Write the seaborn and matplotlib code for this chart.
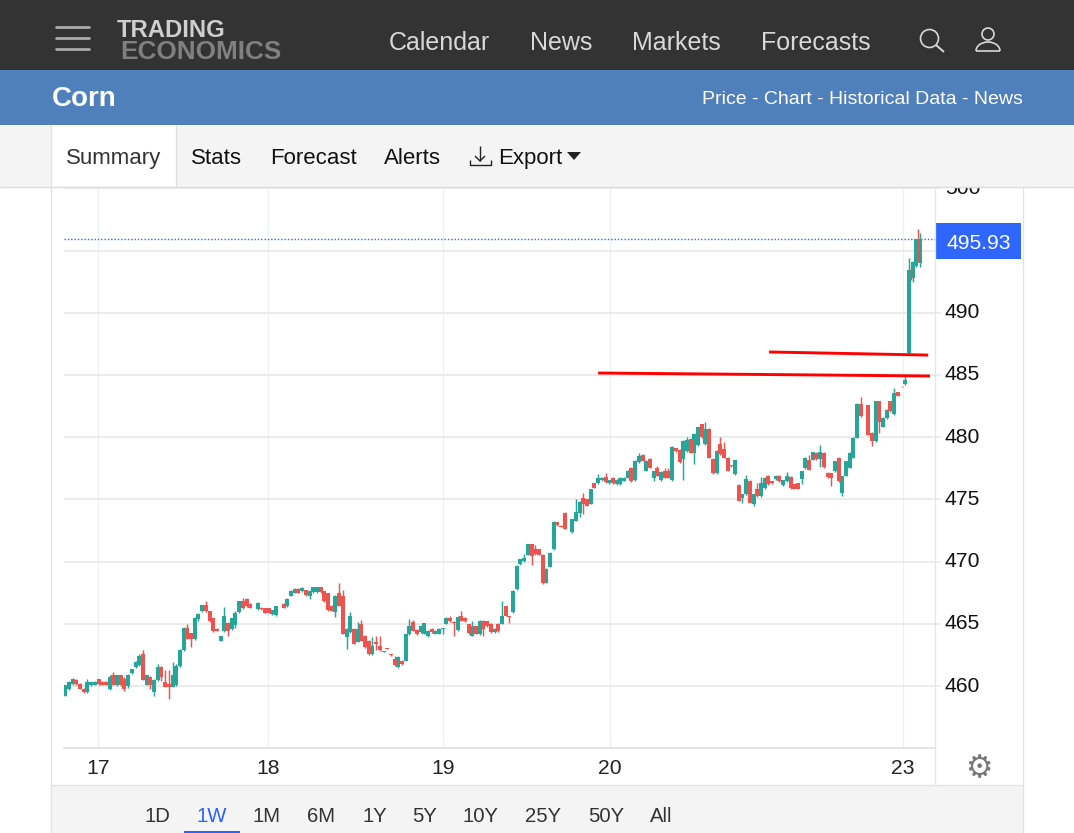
import matplotlib
matplotlib.use("Agg")
import matplotlib.pyplot as plt
from matplotlib.patches import Rectangle, Circle, Arc, Polygon
from matplotlib.transforms import ScaledTranslation
import numpy as np
import pandas as pd
import seaborn as sns

N = None
open_a = [459.2,459.8,460.2,460.5,460.2,459.8,459.5,460.05,460.1,460.55,460.35,460.35,459.8,460.85,460.05,460.85,
          460.6,460,461.05,461.5,461.7,462.6,460.1,460.7,459.5,460.5,461.5,460.35,460.2,459.95,460.1,461.6,
          462.9,464.7,464.25,463.75,465.35,466,466.5,466,465.45,464.6,463.65,464.4,465.1,464.6,464.9,465.95,
          466.8,467,466.6,N,466.2,466.3,466.25,466.25,465.8,465.7,N,466.6,466.4,467.25,467.5,467.8]
close_a = [460.1,460.3,460.6,460.15,459.8,459.5,460.3,460.3,460.35,460.15,460.1,460.1,460.7,460.1,460.85,460.1,
           459.8,460.85,461.35,461.95,462.45,460.5,460.85,460.05,460.5,461.5,460.7,459.95,459.95,460.85,461.65,462.9,
           464.7,463.8,463.75,465.5,465.8,466.5,466,465.2,464.4,464.45,464,465.6,464.4,465.45,465.85,466.8,
           466.3,466.4,466.3,N,466.7,466.2,465.9,465.9,466.1,466.4,N,466.3,467,467.65,467.8,467.5]
high_a = [460.1,460.4,460.65,460.55,460.25,459.85,460.6,460.35,460.4,460.6,460.4,460.4,460.85,461.15,460.9,460.9,
          460.7,461,461.4,462,462.6,462.9,460.9,460.8,460.6,461.8,461.6,461.3,461.3,461.95,461.8,463,
          464.75,464.95,464.3,465.55,465.85,466.55,466.85,466.05,465.5,464.65,464.05,466.35,465.15,465.5,466,466.85,
          467.05,467.05,466.65,N,466.75,466.35,466.3,466.3,466.15,466.45,N,466.65,467.05,467.7,467.85,467.85]
low_a = [459.2,459.7,460.1,460.1,459.75,459.45,459.45,460,460.05,460.1,460.05,460.05,459.7,460.05,460,460,
         459.6,459.85,461,461.45,461.6,460.45,460.05,459.8,459.2,460.4,460.4,459.9,458.95,459.9,460,461.55,
         462.8,463.75,463.1,463.7,465.2,465.95,465.95,465.15,464.35,464.4,463.6,464.35,464,464.5,464.7,465.9,
         466.2,466.35,466.25,N,466.15,466.15,465.85,465.85,465.75,465.65,N,466.25,466.35,467.2,467.45,467.45]

open_b = [467.6,467.7,467.25,467.55,467.55,467.95,467.6,467.45,466.45,465.95,467.45,467.25,463.95,464.35,464.6,463.55,
          464.95,464.05,463.65,462.55,463.5,463.25,462.75,463.02,462.55,462.2,461.55,462.05,462.05,464.15,465.15,464.5,
          464.35,464.2,464,464.6,464.2,464.2,464.6,465,465.5,465.15,464.5,465.65,465.5,464.95,464.05,464.8,
          464.15,465.25,465.2,465,464.35,465,465,466.4,465.6,465.95,467.8]
close_b = [467.9,467.3,467.65,467.95,467.95,467.55,466.8,466.1,466.05,467.25,466.45,464.2,464.6,465.6,463.4,464.6,
           463.65,463.1,462.55,463.25,463.4,462.9,462.8,462.98,462.5,461.7,462.35,461.75,464.15,464.8,464.45,464.15,
           464.8,465.05,464.45,464.35,464.45,464.6,464.65,465.5,465.2,465.05,465.55,465.25,465.2,464.25,464.85,464.2,
           465.25,464.6,464.8,464.35,464.6,464.4,465.65,465.65,465.55,467.65,469.65]
high_b = [467.95,467.75,467.7,468,468,468,467.65,467.5,466.5,467.3,468.25,467.7,464.65,465.95,464.65,465.15,
          465.3,464.1,463.7,463.95,464,464.05,462.85,463.05,462.6,462.45,462.4,462.1,464.2,465.4,465.3,464.55,
          464.85,465.1,464.5,464.65,464.5,464.65,464.7,465.55,465.6,465.2,465.6,466.05,465.55,465,465.25,464.85,
          465.3,465.3,465.25,465.05,464.65,465.05,466.8,466.45,465.65,467.7,469.7]
low_b = [467.55,467.25,467,467.5,467.5,467.5,466.75,466.05,466,465.55,466.4,464.15,463,464.3,463.35,463.5,
         463.6,463.05,462.5,462.5,462.9,462.85,462.7,462.95,462.45,461.65,461.45,461.7,462,464.1,464.4,464.1,
         464.3,464.15,463.95,464.3,464.15,464.15,464.2,464.95,465.15,464,464.45,465.2,465.15,464.2,464,464.15,
         464.1,464.05,464.75,464.3,464.3,464.35,464.95,465.6,465.05,465.9,467.75]

open_c = [469.8,470.05,470.55,471.4,471,471,470.55,468.3,469.6,471,473.15,472.9,473.9,N,472.35,473.3,
          473.9,475.1,475,474.65,476.3,476.3,476.55,476.8,476.3,476.75,476.2,476.2,476.5,476.75,477.55,476.55,
          478,478.6,477.3,478.25,476.75,477.55,476.55,477.3,477.3,476.55,479.1,479,478.25,478.9,479.85,478.75,
          479.35,481.05,479.45,480.65,478.25,477.1,479.45,479.05,478.35,477.75,477.05,476.15,475.15,475.4,476.5]
close_c = [470.2,470.3,471.4,470.45,470.6,470.55,468.25,469.4,470.7,473.2,472.95,472.8,472.65,N,473.4,474,
           474.8,474.6,474.5,475.8,475.95,476.7,476.75,476.4,476.55,476.3,476.6,476.75,476.75,477.3,476.5,478.1,
           478.5,478.1,478.1,477.55,477.25,476.9,477.2,476.75,476.75,479.25,478.9,478,479.7,479.8,478.75,480.25,
           480.8,480,480.65,478.35,477.1,478.9,478.65,478.35,477.3,477.65,478.15,474.9,475.4,476.65,474.75]
high_c = [470.25,470.65,471.45,471.45,471.3,471.05,470.6,469.45,470.75,473.25,473.2,472.95,473.95,N,473.45,475,
          474.85,475.55,475.05,475.85,476.35,477.05,476.8,477.15,476.6,476.8,476.65,476.8,476.8,477.35,477.6,478.15,
          478.7,478.65,478.15,478.35,477.3,477.7,477.25,477.5,477.5,479.3,479.15,479.05,479.75,480,479.9,480.3,
          480.85,481.1,481.2,480.7,478.3,479,480,479.6,478.4,477.8,478.2,476.2,475.45,477,476.55]
low_c = [469.75,470,470.5,469.7,470.55,470.5,468.2,468.25,469.55,470.95,472.9,472.75,472.6,N,472.3,473.25,
         473.6,473.8,474.45,474.6,475.9,476.25,476.5,476.35,476.25,476.25,476.15,476.15,476.45,476.7,476.4,476.5,
         477.95,478.05,477.25,477.5,476.5,476.85,476.5,476.7,476.7,476.5,478.85,477.95,476.6,478.85,478.7,477.85,
         479.3,479.95,479.4,478.3,477.05,477.05,478.6,478.3,477.25,477.6,477,474.85,474.75,475.35,474.7]

open_d = [474.6,475.8,475.25,475.9,476.9,476.45,476.65,476.9,476.15,476.45,476.8,476.2,476.3,476.65,477.5,478.15,
          478.2,478.75,478.25,478.75,477.15,477.1,477.25,478.35,475.5,476.9,477.55,478.35,479.95,482.65,N,482.55,
          480.35,479.7,482.9,480.85,481.55,482.9,481.85,483.6,484.07,484.25,486.74,492.8,493.76,493.97]
close_d = [475.4,475.25,476.3,476.75,476.2,476.3,476.9,476.45,476.55,476.9,475.9,475.85,475.85,477.25,478.35,477.4,
           478.8,478.25,478.8,477.6,476.8,476.75,478.05,476.45,476.85,478.05,478.75,479.95,482.7,481.7,N,480.2,
           479.7,482.9,481.2,481.55,482.2,482.1,483.55,483.35,484.03,484.6,493.44,494.1,495.9,495.93]
high_d = [475.45,476.3,476.8,476.8,476.95,476.5,476.95,476.95,476.6,477.2,476.85,476.25,476.35,477.3,478.4,478.6,
          478.85,478.8,479.35,478.8,477.2,477.15,478.1,478.4,476.9,478.1,478.8,480,482.75,483.25,N,482.6,
          480.4,482.95,482.95,481.6,482.25,482.95,483.95,483.65,484.1,484.95,494.4,494.15,495.95,496.45]
low_d = [474.45,475.2,475.2,475.85,476.15,476.25,476.6,476.4,476.1,476.4,475.85,475.8,475.8,476.2,477.45,477.35,
         478.15,478.2,477.6,477.55,476.75,476.1,477.2,476.4,475.25,476.85,477.5,478.3,479.9,481.65,N,480.15,
         479.3,479.65,480.35,480.8,481.5,482.05,481.8,483.3,484,484.2,486.7,492.5,493.7,493.7]

opens = open_a + open_b + open_c + open_d
closes = close_a + close_b + close_c + close_d
highs = high_a + high_b + high_c + high_d
lows = low_a + low_b + low_c + low_d

extra_slot = [228.5, 230.5]
extra_high = [493.7, 496.7]
extra_low = [492.6, 494.1]

last_price = 495.93
trend_slots = [[190.2, 233.2], [144.0, 233.7]]
trend_prices = [[486.85, 486.6], [485.16, 484.92]]

day_slots = [8.84, 54.8, 102.1, 147.2, 226.4]
day_labels = ["17", "18", "19", "20", "23"]
price_ticks = [460, 465, 470, 475, 480, 485, 490, 495, 500]
price_labels = ["460", "465", "470", "475", "480", "485", "490", "", "500"]
nav_items = ["Calendar", "News", "Markets", "Forecasts"]
tab_items = ["Summary", "Stats", "Forecast", "Alerts", "Export"]
range_items = ["1D", "1W", "1M", "6M", "1Y", "5Y", "10Y", "25Y", "50Y", "All"]

UP = "#26a69a"
DOWN = "#ef5350"

sns.set_theme(style="white")
plt.rcParams["font.family"] = ["Liberation Sans", "DejaVu Sans"]

df = pd.DataFrame({"open": opens, "close": closes, "high": highs, "low": lows})
df["slot"] = np.arange(len(df))
df = df.dropna()
df["dir"] = np.where(df["close"] >= df["open"], "up", "down")
body = df.melt(id_vars=["slot", "dir"], value_vars=["open", "close"], value_name="price")
wick = df.melt(id_vars=["slot", "dir"], value_vars=["high", "low"], value_name="price")

fig = plt.figure(figsize=(10.74, 8.33), dpi=100, facecolor="white")
ax = fig.add_axes([64 / 1074, (833 - 748) / 833, 871 / 1074, 560 / 833], facecolor="none", zorder=1)

palette = {"up": UP, "down": DOWN}
sns.lineplot(data=wick, x="slot", y="price", units="slot", estimator=None, hue="dir", palette=palette,
             linewidth=1.05, legend=False, sort=False, solid_capstyle="butt", ax=ax, zorder=3)
sns.lineplot(data=body, x="slot", y="price", units="slot", estimator=None, hue="dir", palette=palette,
             linewidth=2.9, legend=False, sort=False, solid_capstyle="butt", ax=ax, zorder=4)
extra = pd.DataFrame({"slot": extra_slot * 2, "price": extra_high + extra_low})
sns.lineplot(data=extra, x="slot", y="price", units="slot", estimator=None, color=DOWN,
             linewidth=1.05, legend=False, sort=False, solid_capstyle="butt", ax=ax, zorder=5)

for xs, ys in zip(trend_slots, trend_prices):
    sns.lineplot(x=xs, y=ys, color="#ff0000", linewidth=2.1, sort=False, legend=False,
                 solid_capstyle="butt", ax=ax, zorder=6)
ax.axhline(last_price, color="#2f66ff", linewidth=1.0, linestyle=(0, (1, 1.4)), zorder=2)

ax.set_xlim(-0.35, 235.05)
ax.set_ylim(455.02, 500.03)
ax.set_xticks(day_slots)
ax.set_xticklabels(day_labels)
ax.set_yticks(price_ticks)
ax.set_yticklabels(price_labels)
ax.yaxis.tick_right()
ax.set_xlabel("")
ax.set_ylabel("")
ax.grid(True, axis="y", color="#e8e8e8", linewidth=1.2)
ax.grid(True, axis="x", color="#e9f0f6", linewidth=0.9)
ax.set_axisbelow(True)
ax.tick_params(axis="y", length=4.5, width=1.1, color="#e8e8e8", labelsize=15.2, labelcolor="#111111", pad=2.6, right=True)
ax.tick_params(axis="x", length=0, labelsize=15.2, labelcolor="#222222", pad=8)
lift = ScaledTranslation(0, 2 / 100, fig.dpi_scale_trans)
for label in ax.get_yticklabels():
    label.set_transform(label.get_transform() + lift)
for side in ("top", "left", "right"):
    ax.spines[side].set_visible(False)
ax.spines["bottom"].set_color("#e4e4e4")
ax.spines["bottom"].set_linewidth(1.4)

# page furniture, in pixel coordinates, drawn over the chart
pg = fig.add_axes([0, 0, 1, 1], facecolor="none", zorder=2)
pg.set_xlim(0, 1074)
pg.set_ylim(833, 0)
pg.axis("off")


def rect(x0, y0, x1, y1, color, z=1):
    pg.add_patch(Rectangle((x0, y0), x1 - x0, y1 - y0, facecolor=color, edgecolor="none", zorder=z))


def seg(xs, ys, color, lw=1.0, z=3, cap="butt"):
    pg.plot(xs, ys, color=color, linewidth=lw, solid_capstyle=cap, zorder=z)


rect(0, 0, 1074, 70, "#333333")
rect(0, 70, 1074, 125, "#4f80bc")
rect(0, 125, 1074, 187, "#f4f4f4")
rect(52, 125, 176, 187, "#ffffff", 2)
rect(936, 223, 1021, 259, "#2f66ff", 2)
rect(52, 785, 1023, 833, "#f4f4f4")
rect(184, 831, 240, 833, "#2962ff", 2)

seg([0, 1074], [187, 187], "#dcdcdc", 1.0)
seg([51, 51], [125, 833], "#e2e2e2", 0.9)
seg([1022.5, 1022.5], [187, 833], "#e2e2e2", 0.9)
seg([176, 176], [125, 187], "#dddddd", 0.9)
seg([935, 935], [188, 785], "#e6e6e6", 0.9)
seg([51, 1023], [785, 785], "#e2e2e2", 0.9)

for y in (26.5, 38, 49):
    seg([56, 89], [y, y], "#aaaaaa", 2.0, cap="round")

pg.text(117, 30, "TRADING", color="#cfcfcf", fontsize=17.2, fontweight="bold", va="center", ha="left")
pg.text(120, 52, "ECONOMICS", color="#808080", fontsize=18.8, fontweight="bold", va="center", ha="left")

for label, x in zip(nav_items, [389, 530, 632, 761]):
    pg.text(x, 43, label, color="#d8d8d8", fontsize=18, va="center", ha="left")

pg.add_patch(Circle((929.5, 38.5), 9, facecolor="none", edgecolor="#d8d8d8", linewidth=1.2, zorder=3))
seg([936, 944], [45, 52], "#d8d8d8", 1.4)
pg.add_patch(Circle((988, 34), 6, facecolor="none", edgecolor="#d8d8d8", linewidth=1.2, zorder=3))
pg.add_patch(Arc((988, 51), 24, 18, theta1=180, theta2=360, edgecolor="#d8d8d8", linewidth=1.2, zorder=3))
seg([976, 1000], [51, 51], "#d8d8d8", 1.2)

pg.text(52, 99, "Corn", color="white", fontsize=20, fontweight="bold", va="center", ha="left")
pg.text(1023, 99, "Price - Chart - Historical Data - News", color="white", fontsize=14, va="center", ha="right")

for label, x, col in zip(tab_items, [66, 191, 270, 384, 498], ["#333333", "#111111", "#111111", "#111111", "#111111"]):
    pg.text(x, 158.5, label, color=col, fontsize=16, va="center", ha="left", zorder=4)
seg([480, 480], [146, 161], "#222222", 1.0)
seg([475, 480, 485], [156, 161, 156], "#222222", 1.0)
seg([470, 470, 491, 491], [160, 165, 165, 160], "#222222", 1.0)
pg.add_patch(Polygon([(567, 152), (581, 152), (574, 160)], facecolor="#222222", edgecolor="none", zorder=3))

pg.text(978.5, 243, "495.93", color="white", fontsize=15.2, va="center", ha="center", zorder=4)
pg.text(979, 769, "\u2699", color="#777777", fontsize=22, va="center", ha="center",
        family="DejaVu Sans")

for label, x in zip(range_items, [145, 197, 253, 307, 362, 412, 463, 525, 588, 650]):
    pg.text(x, 816.5, label, color="#2962ff" if label == "1W" else "#333333", fontsize=14.6, va="center", ha="left")

fig.savefig("out.png", dpi=100)
